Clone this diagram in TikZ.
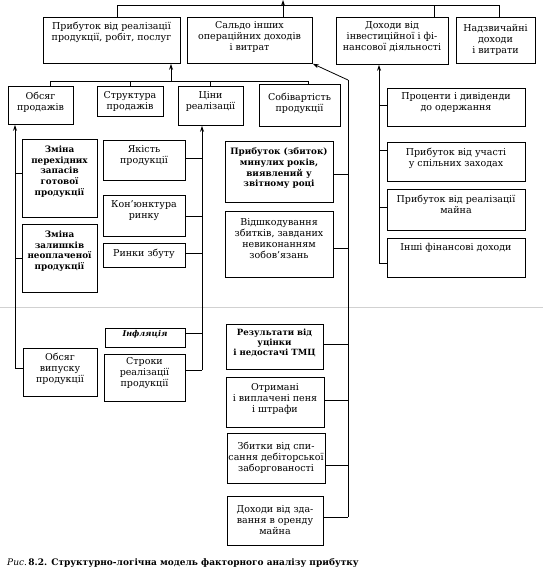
\documentclass[tikz,border=0pt]{standalone}
\usepackage{fontspec}
\setmainfont{DejaVu Serif}
\usetikzlibrary{arrows.meta}
\tikzset{
  box/.style={draw, line width=0.8pt, inner sep=0pt, fill=white},
  lbl/.style={align=center, inner sep=0pt, font=\fontsize{9.5}{11}\selectfont},
  bl/.style={font=\fontsize{8.8}{10.8}\selectfont\bfseries},
  wire/.style={line width=0.8pt},
  arr/.style={line width=0.8pt, -{Stealth[length=6pt,width=4pt]}},
}
\newcommand{\mkbox}[8][]{%
  \node[box, minimum width={(#5-#3)*1pt}, minimum height={(#6-#4)*1pt}, anchor=north west] (#2) at (#3,#4) {};
  \node[lbl, anchor=north, #1] (#2t) at ({(#3+#5)/2},#7) {#8};
}
\begin{document}
\begin{tikzpicture}[x=1pt,y=-1pt]
\useasboundingbox (0,0) rectangle (543,572);
\fill[white] (0,0) rectangle (543,572);
% fold of the scanned page
\draw[black!18, line width=0.8pt] (0,307) -- (543,307);

% top row
\mkbox{t1}{43}{17}{180}{63}{21.5}{Прибуток від реалізації\\продукції, робіт, послуг}
\mkbox{t2}{187}{17}{312}{63}{21.5}{Сальдо інших\\операційних доходів\\і витрат}
\mkbox{t3}{336}{17}{448}{64}{21.5}{Доходи від\\інвестиційної і фі-\\нансової діяльності}
\mkbox{t4}{456}{17}{535}{63}{24.5}{Надзвичайні\\доходи\\і витрати}

% second row
\mkbox{s1}{8}{86}{73}{124}{92}{Обсяг\\продажів}
\mkbox{s2}{97}{86}{163}{116}{91.5}{Структура\\продажів}
\mkbox{s3}{178}{86}{243}{125}{91.5}{Ціни\\реалізації}
\mkbox{s4}{259}{84}{340}{126}{93}{Собівартість\\продукції}

% left column
\mkbox[bl]{l1}{22}{139}{97}{217}{145.5}{Зміна\\перехідних\\запасів\\готової\\продукції}
\mkbox[bl]{l2}{22}{224}{97}{292}{230.5}{Зміна\\залишків\\неоплаченої\\продукції}
\mkbox{l3}{23}{348}{97}{396}{352.5}{Обсяг\\випуску\\продукції}

% middle column
\mkbox{m1}{103}{140}{185}{180}{145.5}{Якість\\продукції}
\mkbox{m2}{103}{195}{185}{236}{200.5}{Кон'юнктура\\ринку}
\mkbox{m3}{103}{243}{185}{267}{248.5}{Ринки збуту}
\mkbox[font=\fontsize{8}{9}\selectfont\bfseries\itshape]{m4}{105}{328}{185}{347}{330}{Інфляція}
\mkbox{m5}{104}{354}{185}{401}{357.5}{Строки\\реалізації\\продукції}

% right-middle column
\mkbox[bl]{r1}{225}{141}{333}{202}{147.5}{Прибуток (збиток)\\минулих років,\\виявлений у\\звітному році}
\mkbox{r2}{225}{211}{333}{277}{218.5}{Відшкодування\\збитків, завданих\\невиконанням\\зобов'язань}
\mkbox[font=\fontsize{8.6}{10}\selectfont\bfseries]{r3}{226}{324}{323}{369}{328.5}{Результати від\\уцінки\\і недостачі ТМЦ}
\mkbox{r4}{226}{377}{324}{427}{383.5}{Отримані\\і виплачені пеня\\і штрафи}
\mkbox{r5}{227}{433}{325}{483}{441.5}{Збитки від спи-\\сання дебіторської\\заборгованості}
\mkbox{r6}{227}{496}{323}{545}{505.5}{Доходи від зда-\\вання в оренду\\майна}

% right column
\mkbox{f1}{387}{88}{525}{126}{92.5}{Проценти і дивіденди\\до одержання}
\mkbox{f2}{387}{142}{525}{181}{147.5}{Прибуток від участі\\у спільних заходах}
\mkbox{f3}{387}{189}{525}{230}{194.5}{Прибуток від реалізації\\майна}
\mkbox{f4}{387}{238}{525}{277}{243.5}{Інші фінансові доходи}

% caption
\node[anchor=west, inner sep=0pt, font=\fontsize{9}{10}\selectfont] (cap) at (7,563)
  {\textit{Рис.}\,\textbf{8.2. Структурно-логічна модель факторного аналізу прибутку}};

% top bus
\coordinate (tb1) at (117,5);
\coordinate (tb2) at (283,5);
\coordinate (tb3) at (434,5);
\coordinate (tb4) at (499,5);
\coordinate (top) at (283,0);
\draw[wire] (t1.north -| tb1) -- (tb1) -- (tb4) -- (t4.north -| tb4);
\draw[wire] (t2.north -| tb2) -- (tb2);
\draw[wire] (t3.north -| tb3) -- (tb3);
\draw[arr] (tb2) -- (top);

% second bus
\coordinate (sb1) at (50,81);
\coordinate (sb2) at (130,81);
\coordinate (sb3) at (210,81);
\coordinate (sb4) at (308,81);
\coordinate (sbu) at (171,81);
\draw[wire] (s1.north -| sb1) -- (sb1) -- (sb4) -- (s4.north -| sb4);
\draw[wire] (s2.north -| sb2) -- (sb2);
\draw[wire] (s3.north -| sb3) -- (sb3);
\draw[arr] (sbu) -- (t1.south -| sbu);

% left column
\coordinate (lv) at (15,368);
\draw[arr] (lv) -- (s1.south -| lv);
\draw[wire] ([yshift=5pt]l1.west) -- ([yshift=5pt]l1.west -| lv);
\draw[wire] (l2.west) -- (l2.west -| lv);
\draw[wire] (l3.west |- lv) -- (lv);

% middle column
\coordinate (mv) at (202,370);
\draw[arr] (mv) -- (s3.south -| mv);
\draw[wire] ([yshift=2pt]m1.east) -- ([yshift=2pt]m1.east -| mv);
\draw[wire] (m2.east) -- (m2.east -| mv);
\draw[wire] ([yshift=2pt]m3.east) -- ([yshift=2pt]m3.east -| mv);
\draw[wire] ([yshift=4.5pt]m4.east) -- ([yshift=4.5pt]m4.east -| mv);
\draw[wire] (m5.east |- mv) -- (mv);

% right-middle column
\coordinate (rvt) at (348,80);
\coordinate (rvb) at (348,517);
\draw[arr] (rvt) -- (t2.south east);
\draw[wire] (rvt) -- (rvb);
\draw[wire] ([yshift=-2.5pt]r1.east) -- ([yshift=-2.5pt]r1.east -| rvt);
\draw[wire] ([yshift=-4pt]r2.east) -- ([yshift=-4pt]r2.east -| rvt);
\draw[wire] ([yshift=2.5pt]r3.east) -- ([yshift=2.5pt]r3.east -| rvt);
\draw[wire] ([yshift=2pt]r4.east) -- ([yshift=2pt]r4.east -| rvt);
\draw[wire] ([yshift=-7pt]r5.east) -- ([yshift=-7pt]r5.east -| rvt);
\draw[wire] (r6.east |- rvb) -- (rvb);

% right column
\coordinate (fv) at (379,263);
\draw[arr] (fv) -- (t3.south -| fv);
\draw[wire] ([yshift=2pt]f1.west) -- ([yshift=2pt]f1.west -| fv);
\draw[wire] ([yshift=11.5pt]f2.west) -- ([yshift=11.5pt]f2.west -| fv);
\draw[wire] ([yshift=2.5pt]f3.west) -- ([yshift=2.5pt]f3.west -| fv);
\draw[wire] (f4.west |- fv) -- (fv);
\end{tikzpicture}
\end{document}
